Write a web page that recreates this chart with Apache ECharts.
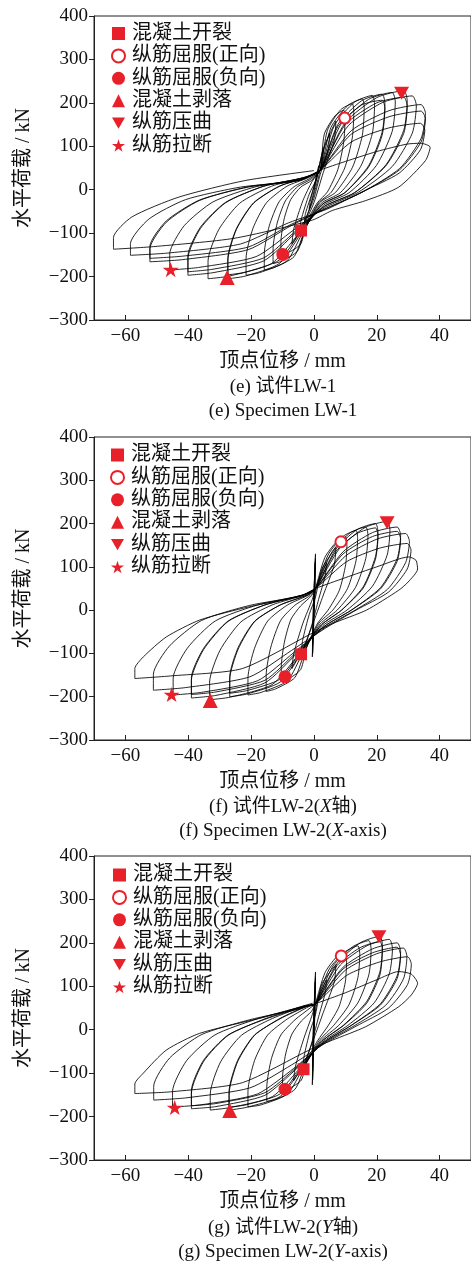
<!DOCTYPE html>
<html><head><meta charset="utf-8">
<script src="https://cdn.jsdelivr.net/npm/echarts@6/dist/echarts.min.js"></script>
<style>html,body{margin:0;padding:0;background:#fff}#c{width:471px;height:1265px}</style>
</head><body><div id="c"></div>
<script>
// ---- data ----
const xTicks = [-60, -40, -20, 0, 20, 40];
const yTicks = [-300, -200, -100, 0, 100, 200, 300, 400];
const markerNames = ['混凝土开裂', '纵筋屈服(正向)', '纵筋屈服(负向)', '混凝土剥落', '纵筋压曲', '纵筋拉断'];
const markersE = [[-4.1, -94], [9.8, 165], [-9.9, -149], [-27.6, -202], [27.9, 222], [-45.6, -184]];
const markersF = [[-4.1, -102], [8.6, 158], [-9.2, -154], [-33, -209], [23.3, 202], [-45.3, -195]];
const markersG = [[-3.3, -91], [8.7, 170], [-9.2, -137], [-26.8, -186], [20.7, 214], [-44.3, -179]];

// hysteresis cycles, flat [x,y,...] lists (mm, kN)
const loopsE = [
 [0,0, 0.8,30, 1.5,55, 1.3,40, 0.3,5, -0.7,-25, -1.5,-45, -1.3,-30, -0.2,0],
 [1.5,50, 3,95, 2.7,70, 0.8,10, -1,-35, -3,-75, -2.7,-55, -0.5,-5],
 [1.5,45, 3,90, 5,130, 4.6,95, 2,35, 0,-20, -2.5,-65, -4.5,-95, -4.1,-70, -1.5,-10, 0.8,25],
 [3,95, 7,158, 6.5,115, 3,40, 0,-30, -3.5,-85, -7,-125, -6.4,-90, -3.5,-25, -0.5,20, 2,45],
 [3.3,128, 6.7,170, 9.5,183, 9.9,165, 9.5,110, 7.6,46, 4.3,-5, 1.1,-30, -2.3,-75, -4.2,-125, -8.4,-146, -10.5,-150, -10.5,-120, -9.5,-68, -7.4,-23, -4.2,6, -0.8,21, 2,45],
 [4.3,137, 8.5,184, 12.2,198, 12.7,178, 12.2,119, 9.8,50, 5.5,-6, 1.5,-30, -2.6,-85, -5.2,-141, -10.4,-165, -13,-170, -13,-136, -11.7,-77, -9.1,-26, -5.2,7, -1,24, 2,45],
 [5.4,143, 10.8,194, 15.4,209, 16,188, 15.4,125, 12.3,52, 6.9,-6, 1.8,-30, -2.9,-93, -6.3,-154, -12.6,-179, -15.8,-185, -15.8,-148, -14.2,-83, -11.1,-28, -6.3,7, -1.3,26, 2,45],
 [6.5,148, 13,202, 18.6,217, 19.3,195, 18.6,130, 14.9,54, 8.4,-7, 2.2,-32, -3.6,-99, -8.6,-164, -17.3,-191, -21.6,-197, -21.6,-158, -19.4,-89, -15.1,-30, -8.6,8, -1.7,28, 2,45],
 [7.6,150, 15.2,205, 21.7,220, 22.6,198, 21.7,132, 17.4,55, 9.8,-7, 2.6,-34, -4.3,-103, -11,-170, -21.9,-199, -27.4,-205, -27.4,-164, -24.7,-92, -19.2,-31, -11,8, -2.2,29, 2,45],
 [7.6,145, 15.2,195, 21.7,206, 22.6,188, 21.7,125, 17.4,52, 9.8,-7, 2.6,-34, -4.3,-98, -11,-162, -21.9,-190, -27.4,-196, -27.4,-158, -24.7,-90, -19.2,-30, -11,8, -2.2,29, 2,45],
 [8.7,152, 17.4,208, 24.9,224, 25.9,202, 24.9,134, 19.9,56, 11.2,-7, 3,-36, -5,-103, -13.5,-170, -27,-199, -33.7,-205, -33.7,-164, -30.3,-92, -23.6,-31, -13.5,8, -2.7,29, 2,45],
 [10,155, 20,212, 28.6,228, 29.7,205, 28.6,137, 22.9,57, 12.9,-7, 3.4,-38, -5.8,-99, -16,-164, -32.1,-191, -40.1,-197, -40.1,-158, -36.1,-89, -28.1,-30, -16,8, -3.2,28, 2,45],
 [10,150, 20,200, 28.6,213, 29.7,192, 28.6,130, 22.9,55, 12.9,-7, 3.4,-38, -5.8,-95, -16,-157, -32.1,-183, -40.1,-189, -40.1,-152, -36.1,-86, -28.1,-29, -16,8, -3.2,28, 2,45],
 [11,148, 21.9,201, 31.3,216, 32.6,194, 31.3,130, 25,54, 14.1,-6, 3.8,-40, -6.5,-93, -18.4,-154, -36.7,-179, -45.9,-185, -45.9,-148, -41.3,-83, -32.1,-28, -18.4,7, -3.7,26, 2,45],
 [11.9,136, 23.9,182, 34.1,196, 35.5,176, 34.1,118, 27.3,49, 15.3,-6, 4.1,-42, -7.3,-83, -20.9,-138, -41.8,-161, -52.2,-166, -52.2,-136, -47,-75, -36.5,-25, -20.9,7, -4.2,23, 2,45],
 [11.9,128, 23.9,168, 34.1,181, 35.5,163, 34.1,110, 27.3,46, 15.3,-6, 4.1,-43, -7.3,-80, -20.9,-132, -41.8,-153, -52.2,-158, -52.2,-130, -47,-72, -36.5,-24, -20.9,6, -4.2,22, 2,45],
 [11.9,110, 23.7,142, 33.9,153, 35.3,138, 33.9,92, 27.1,38, 15.3,-5, 4.1,-45, -8,-76, -23.4,-125, -46.7,-146, -58.4,-151, -58.4,-124, -52.6,-68, -40.9,-23, -23.4,6, -4.7,21, 2,45],
 [10,65, 20,88, 29.6,105, 34,107, 37,98, 35.5,67, 27,6, 16.5,-25, 5.8,-48, -0.5,-70, -25.5,-112, -51,-131, -63.8,-137, -63.8,-110, -58,-63, -43,-17, -22,21, 0,44]
];
const loopsF = [
 [0,0, 0.3,70, 0.5,130, 0.1,60, -0.3,-20, -0.5,-108, -0.2,-50, 0.2,20, 0.5,120, 0.2,70, -0.2,-10, -0.4,-100, -0.1,-40, 0.3,40, 0.4,110, 0,30, -0.4,-80, -0.2,-30, 0.2,30],
 [1.5,70, 4,110, 3.6,80, 1.5,25, -0.5,-30, -2.5,-75, -4,-100, -3.6,-70, -1.5,-10, 0.5,30],
 [2.5,95, 7,145, 6.5,105, 3,35, 0,-25, -3.5,-90, -7,-135, -6.4,-100, -3.5,-30, -0.5,25, 0.5,50],
 [3.5,122, 7.1,157, 10.1,169, 10.5,152, 10.1,105, 8.1,46, 4.5,0, 1.2,-30, -2.2,-83, -4.2,-137, -8.3,-160, -10.4,-165, -10.4,-132, -9.4,-74, -7.3,-21, -4.2,10, -0.8,33, 0.5,50],
 [4.7,130, 9.4,171, 13.4,184, 13.9,166, 13.4,114, 10.7,50, 6,0, 1.6,-30, -2.8,-94, -6.1,-156, -12.2,-182, -15.2,-188, -15.2,-150, -13.7,-85, -10.6,-24, -6.1,11, -1.2,34, 0.5,50],
 [5.8,135, 11.6,179, 16.5,192, 17.2,173, 16.5,119, 13.2,52, 7.4,0, 2,-32, -3.5,-98, -8.4,-163, -16.8,-190, -21,-196, -21,-157, -18.9,-88, -14.7,-25, -8.4,12, -1.7,35, 0.5,50],
 [6.9,140, 13.7,186, 19.6,200, 20.4,180, 19.6,124, 15.7,54, 8.8,0, 2.4,-34, -4.2,-100, -10.7,-166, -21.4,-194, -26.8,-200, -26.8,-160, -24.1,-90, -18.8,-26, -10.7,12, -2.1,35, 0.5,50],
 [6.9,135, 13.7,177, 19.6,190, 20.4,171, 19.6,118, 15.7,51, 8.8,0, 2.4,-34, -4.2,-96, -10.7,-159, -21.4,-186, -26.8,-192, -26.8,-154, -24.1,-86, -18.8,-25, -10.7,12, -2.1,35, 0.5,50],
 [8.2,143, 16.3,191, 23.3,205, 24.2,185, 23.3,127, 18.6,55, 10.5,0, 2.8,-36, -5,-104, -13.3,-172, -26.6,-201, -33.2,-207, -33.2,-166, -29.9,-93, -23.2,-27, -13.3,12, -2.7,36, 0.5,50],
 [9.3,135, 18.6,179, 26.5,192, 27.6,173, 26.5,119, 21.2,52, 11.9,0, 3.2,-38, -5.7,-102, -15.6,-168, -31.2,-197, -39,-203, -39,-162, -35.1,-91, -27.3,-26, -15.6,12, -3.1,36, 0.5,50],
 [9.3,130, 18.6,170, 26.5,182, 27.6,164, 26.5,113, 21.2,49, 11.9,0, 3.2,-38, -5.7,-98, -15.6,-162, -31.2,-189, -39,-195, -39,-156, -35.1,-88, -27.3,-25, -15.6,12, -3.1,36, 0.5,50],
 [10.2,126, 20.4,165, 29.2,177, 30.4,159, 29.2,110, 23.4,48, 13.1,0, 3.5,-40, -6.4,-98, -17.9,-163, -35.8,-190, -44.8,-196, -44.8,-157, -40.3,-88, -31.4,-25, -17.9,12, -3.6,35, 0.5,50],
 [10.4,112, 20.8,143, 29.7,154, 30.9,139, 29.7,95, 23.8,42, 13.4,0, 3.6,-42, -7.1,-93, -20.4,-154, -40.9,-179, -51.1,-185, -51.1,-148, -46,-83, -35.8,-24, -20.4,11, -4.1,33, 0.5,50],
 [10,75, 20,100, 30.2,123, 32.5,115, 33,95, 30,65, 27,46, 16.7,0, 5.9,-31, -1,-55, -22.8,-135, -45.6,-152, -57,-158, -57,-135, -54.3,-108, -47,-62, -36.4,-23, -20.5,8, -4.7,31, -0.4,42]
];
const loopsG = [
 [0,0, 0.3,70, 0.5,133, 0.1,60, -0.3,-20, -0.5,-127, -0.2,-50, 0.2,20, 0.5,120, 0.2,70, -0.2,-10, -0.4,-115, -0.1,-40, 0.3,40, 0.4,110, 0,30, -0.4,-95, -0.2,-30, 0.2,30],
 [1.5,75, 4,115, 3.6,85, 1.5,30, -0.5,-25, -2.2,-65, -3.5,-90, -3.1,-60, -1.3,-5, 0.5,35],
 [2.5,105, 7,150, 6.5,110, 3,40, 0,-20, -3.3,-80, -6.5,-118, -5.9,-85, -3.2,-20, -0.5,35, 0.5,60],
 [3.5,131, 7,166, 10,178, 10.4,160, 10,110, 8,53, 4.5,9, 1.2,-25, -2.2,-70, -4,-116, -8,-136, -10,-140, -10,-112, -9,-56, -7,-10, -4,20, -0.8,42, 0.5,60],
 [4.9,140, 9.8,179, 14,193, 14.6,174, 14,120, 11.2,58, 6.3,10, 1.7,-25, -2.8,-83, -6,-137, -12,-160, -15,-165, -15,-132, -13.5,-66, -10.5,-12, -6,23, -1.2,50, 0.5,60],
 [6.1,147, 12.3,191, 17.5,205, 18.2,185, 17.5,127, 14,62, 7.9,10, 2.1,-26, -3.5,-89, -8.4,-148, -16.8,-173, -21,-178, -21,-142, -18.9,-71, -14.7,-12, -8.4,25, -1.7,53, 0.5,60],
 [7.4,153, 14.7,200, 21,215, 21.8,194, 21,133, 16.8,65, 9.5,11, 2.5,-27, -4.2,-93, -10.8,-154, -21.6,-179, -27,-185, -27,-148, -24.3,-74, -18.9,-13, -10.8,26, -2.2,55, 0.5,60],
 [7.4,148, 14.7,189, 21,203, 21.8,183, 21,126, 16.8,61, 9.5,10, 2.5,-27, -4.2,-89, -10.8,-148, -21.6,-173, -27,-178, -27,-142, -24.3,-71, -18.9,-12, -10.8,25, -2.2,54, 0.5,60],
 [8.4,149, 16.8,193, 24,208, 25,187, 24,129, 19.2,62, 10.8,10, 2.9,-28, -5,-93, -13.2,-154, -26.4,-179, -33,-185, -33,-148, -29.7,-74, -23.1,-13, -13.2,26, -2.6,55, 0.5,60],
 [9.3,144, 18.6,186, 26.5,200, 27.6,180, 26.5,124, 21.2,60, 11.9,10, 3.2,-29, -5.7,-91, -15.6,-151, -31.2,-177, -39,-182, -39,-146, -35.1,-73, -27.3,-13, -15.6,25, -3.1,55, 0.5,60],
 [9.3,140, 18.6,177, 26.5,190, 27.6,171, 26.5,118, 21.2,57, 11.9,10, 3.2,-29, -5.7,-88, -15.6,-145, -31.2,-170, -39,-175, -39,-140, -35.1,-70, -27.3,-12, -15.6,24, -3.1,53, 0.5,60],
 [10,137, 20,175, 28.5,188, 29.6,169, 28.5,117, 22.8,56, 12.8,9, 3.4,-30, -6.4,-89, -18,-148, -36,-173, -45,-178, -45,-142, -40.5,-71, -31.5,-12, -18,25, -3.6,53, 0.5,60],
 [10.4,125, 20.9,156, 29.8,168, 31,151, 29.8,104, 23.8,50, 13.4,8, 3.6,-31, -7.1,-81, -20.4,-134, -40.8,-157, -51,-162, -51,-130, -45.9,-65, -35.7,-11, -20.4,23, -4.1,49, 0.5,60],
 [10,85, 20,115, 27,134, 31,128, 33,107, 31,80, 27,53, 16.5,7, 5.9,-24, -1,-45, -22.8,-122, -45.6,-143, -57,-147, -57,-125, -54.3,-100, -47,-47, -36.4,-8.4, -15.2,30, -0.4,61]
];
const captionsCN = ['(e) 试件LW-1', '(f) 试件LW-2({i|X}轴)', '(g) 试件LW-2({i|Y}轴)'];
const captionsEN = ['(e) Specimen LW-1', '(f) Specimen LW-2({i|X}-axis)', '(g) Specimen LW-2({i|Y}-axis)'];

// ---- chart ----
const FONT = "'Liberation Serif','Noto Sans CJK SC',serif";
const RED = '#e8202a';
const INK = '#111';
const gridTops = [16, 437, 856];
const gridHeights = [304, 303, 304];
const legendTops = [23.5, 445, 865];
const legendLefts = [111, 110, 112];
const capY = [[387.5, 411.5], [807, 831], [1228, 1252]];
const symbols = ['rect', 'circle', 'circle', 'triangle', 'path://M0,0L10,0L5,8.66Z',
  'path://M50,2L61.2,36.2L97.6,36.2L68.2,57.6L79.4,91.8L50,70.6L20.6,91.8L31.8,57.6L2.4,36.2L38.8,36.2Z'];
const symbolSizes = [12, 11, 13, 15, 15, 16];
const minus = v => (v < 0 ? '\u2212' + (-v) : '' + v);

function toPts(loops) {
  const pts = [];
  loops.forEach(l => { for (let i = 0; i < l.length; i += 2) pts.push([l[i], l[i + 1]]); });
  return pts;
}
const panels = [
  { loops: loopsE, marks: markersE },
  { loops: loopsF, marks: markersF },
  { loops: loopsG, marks: markersG }
];

const grid = [], xAxis = [], yAxis = [], series = [], legend = [], graphic = [];
panels.forEach((p, i) => {
  grid.push({ left: 94, top: gridTops[i], width: 378, height: gridHeights[i], show: true,
    borderColor: '#222', borderWidth: 1, backgroundColor: 'transparent' });
  xAxis.push({ gridIndex: i, type: 'value', min: -70, max: 50,
    name: '顶点位移 / mm', nameLocation: 'middle', nameGap: 32,
    nameTextStyle: { fontSize: 20, fontFamily: FONT, color: INK },
    axisLine: { show: true, onZero: false, lineStyle: { color: '#222', width: 1 } },
    axisTick: { show: true, inside: true, length: 5, customValues: xTicks, lineStyle: { color: '#222' } },
    axisLabel: { customValues: xTicks, formatter: minus, fontSize: 19, fontFamily: FONT, color: INK, margin: 7 },
    splitLine: { show: false } });
  yAxis.push({ gridIndex: i, type: 'value', min: -300, max: 400, interval: 100,
    name: '水平荷载 / kN', nameLocation: 'middle', nameGap: 60, nameRotate: 90,
    nameTextStyle: { fontSize: 20, fontFamily: FONT, color: INK },
    axisLine: { show: true, onZero: false, lineStyle: { color: '#222', width: 1 } },
    axisTick: { show: true, inside: false, length: 5, lineStyle: { color: '#222' } },
    axisLabel: { formatter: minus, fontSize: 19, fontFamily: FONT, color: INK, margin: 6 },
    splitLine: { show: false } });
  series.push({ type: 'line', xAxisIndex: i, yAxisIndex: i, data: toPts(p.loops),
    symbol: 'none', smooth: 0.22, clip: true, silent: true,
    lineStyle: { color: '#000', width: 0.85 }, z: 2 });
  markerNames.forEach((nm, k) => {
    series.push({ type: 'scatter', name: nm, xAxisIndex: i, yAxisIndex: i,
      data: [p.marks[k]], symbol: symbols[k], symbolSize: symbolSizes[k], symbolKeepAspect: true,
      itemStyle: k === 1 ? { color: '#fff', borderColor: RED, borderWidth: 2, opacity: 1 } : { color: RED, opacity: 1 },
      z: 5 });
  });
  legend.push({ orient: 'vertical', left: legendLefts[i], top: legendTops[i], itemWidth: 13, itemHeight: 13,
    itemGap: 2.4, selectedMode: false, data: markerNames, padding: 0,
    textStyle: { fontSize: 20, lineHeight: 20, fontFamily: FONT, color: INK, padding: [0, 0, 0, 2] } });
  const rich = { i: { fontStyle: 'italic', fontSize: 19, fontFamily: FONT, fill: INK } };
  graphic.push({ type: 'text', x: 283, y: capY[i][0], style: { text: captionsCN[i], fontSize: 19,
    fontFamily: FONT, fill: INK, align: 'center', verticalAlign: 'middle', rich } });
  graphic.push({ type: 'text', x: 283, y: capY[i][1], style: { text: captionsEN[i], fontSize: 19,
    fontFamily: FONT, fill: INK, align: 'center', verticalAlign: 'middle', rich } });
});

const chart = echarts.init(document.getElementById('c'), null, { renderer: 'canvas' });
chart.setOption({ animation: false, backgroundColor: '#fff', grid, xAxis, yAxis, series, legend, graphic });
</script></body></html>
